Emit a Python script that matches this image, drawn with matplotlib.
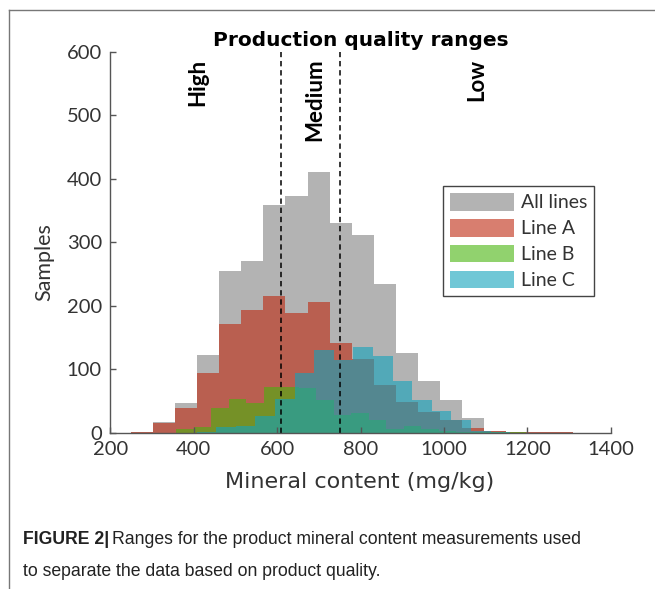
import numpy as np
import matplotlib
matplotlib.use("Agg")
import matplotlib.pyplot as plt
from matplotlib.lines import Line2D

# histogram counts (MATLAB-style bins, one bin width per series)
all_start, all_width = 249, 53
all_counts = [2, 17, 47, 123, 254, 271, 358, 373, 411, 331, 311, 234, 126, 81, 52, 23, 3, 2, 2, 1]

a_start, a_width = 249, 53
a_counts = [2, 16, 39, 94, 172, 193, 215, 188, 206, 142, 116, 76, 49, 33, 20, 8, 3, 2, 2, 1]

b_start, b_width = 358, 42
b_counts = [6, 10, 40, 53, 47, 73, 73, 71, 52, 28, 32, 21, 7, 11, 6, 3, 2, 1, 2, 1]

c_start, c_width = 407, 47
c_counts = [2, 10, 11, 26, 53, 94, 130, 115, 136, 121, 82, 52, 35, 20, 3, 2]

limits = [610, 750]
range_labels = ["High", "Medium", "Low"]
range_label_x = [410, 690, 1079]
series_labels = ["All lines", "Line A", "Line B", "Line C"]

W, H = 655, 589
fig = plt.figure(figsize=(W / 100, H / 100), dpi=100)
ax = fig.add_axes([110.3 / W, 1 - 433 / H, 500.4 / W, 381.5 / H])

tick_font = "Lato"
txt = "#333333"


def edges(start, width, n):
    return start + width * np.arange(n + 1)


ax.stairs(all_counts, edges(all_start, all_width, len(all_counts)), fill=True,
          color="#b3b3b3", lw=0, label=series_labels[0])
ax.stairs(a_counts, edges(a_start, a_width, len(a_counts)), fill=True,
          color=(190 / 255, 40 / 255, 15 / 255), alpha=0.6, lw=0, label=series_labels[1])
ax.stairs(b_counts, edges(b_start, b_width, len(b_counts)), fill=True,
          color=(72 / 255, 180 / 255, 13 / 255), alpha=0.6, lw=0, label=series_labels[2])
ax.stairs(c_counts, edges(c_start, c_width, len(c_counts)), fill=True,
          color=(17 / 255, 163 / 255, 188 / 255), alpha=0.6, lw=0, label=series_labels[3])

for x in limits:
    ax.axvline(x, color="black", lw=1.1, ls=(0, (3.5, 2.5)))

for lab, x in zip(range_labels, range_label_x):
    ax.text(x, 589, lab, rotation=90, ha="center", va="top", fontsize=16,
            fontweight="bold", family="Lato", color="black")

ax.set_xlim(200, 1400)
ax.set_ylim(0, 600)
ax.set_xticks(range(200, 1401, 200))
ax.set_yticks(range(0, 601, 100))
ax.tick_params(direction="in", length=4, width=1, color="#555555", labelsize=14.5,
               labelcolor=txt, pad=6)
for lbl in ax.get_xticklabels() + ax.get_yticklabels():
    lbl.set_family(tick_font)
for s in ["top", "right"]:
    ax.spines[s].set_visible(False)
for s in ["left", "bottom"]:
    ax.spines[s].set_color("#555555")
    ax.spines[s].set_linewidth(1)

fig.text(360 / W, 1 - 482 / H, "Mineral content (mg/kg)", ha="center", va="center",
         fontsize=16, family="DejaVu Sans", color=txt)
fig.text(44 / W, 1 - 262 / H, "Samples", ha="center", va="center", rotation=90,
         fontsize=15.5, family=tick_font, color=txt)
fig.text(361 / W, 1 - 40 / H, "Production quality ranges", ha="center", va="center",
         fontsize=14.5, fontweight="bold", family="DejaVu Sans", color="black")

leg = ax.legend(loc="upper left", bbox_to_anchor=(443 / W, 1 - 186 / H),
                bbox_transform=fig.transFigure, borderaxespad=0,
                prop={"family": tick_font, "size": 14}, handlelength=3.3,
                handleheight=1.03, labelspacing=0.38, handletextpad=0.35,
                borderpad=0.35, fancybox=False, framealpha=1)
leg.get_frame().set_edgecolor("#444444")
leg.get_frame().set_linewidth(1)
for t in leg.get_texts():
    t.set_color(txt)

# frame around the figure panel
fig.add_artist(Line2D([9 / W, 9 / W], [0, 1 - 10 / H], color="#777777", lw=1))
fig.add_artist(Line2D([9 / W, 1], [1 - 10 / H, 1 - 10 / H], color="#777777", lw=1))

# caption
cap_font = ["Liberation Sans Narrow", "Liberation Sans"]
fig.canvas.draw()
r = fig.canvas.get_renderer()
t1 = fig.text(23 / W, 1 - 540 / H, "FIGURE 2|", ha="left", va="center", fontsize=12.7,
              fontweight="bold", family=cap_font, color="#222222")
bb = t1.get_window_extent(r)
fig.text((bb.x1 + 3) / W, 1 - 540 / H,
         "Ranges for the product mineral content measurements used",
         ha="left", va="center", fontsize=12.7, family=cap_font, color="#222222")
fig.text(23 / W, 1 - 572 / H, "to separate the data based on product quality.",
         ha="left", va="center", fontsize=12.7, family=cap_font, color="#222222")

fig.savefig("out.png", dpi=100)
